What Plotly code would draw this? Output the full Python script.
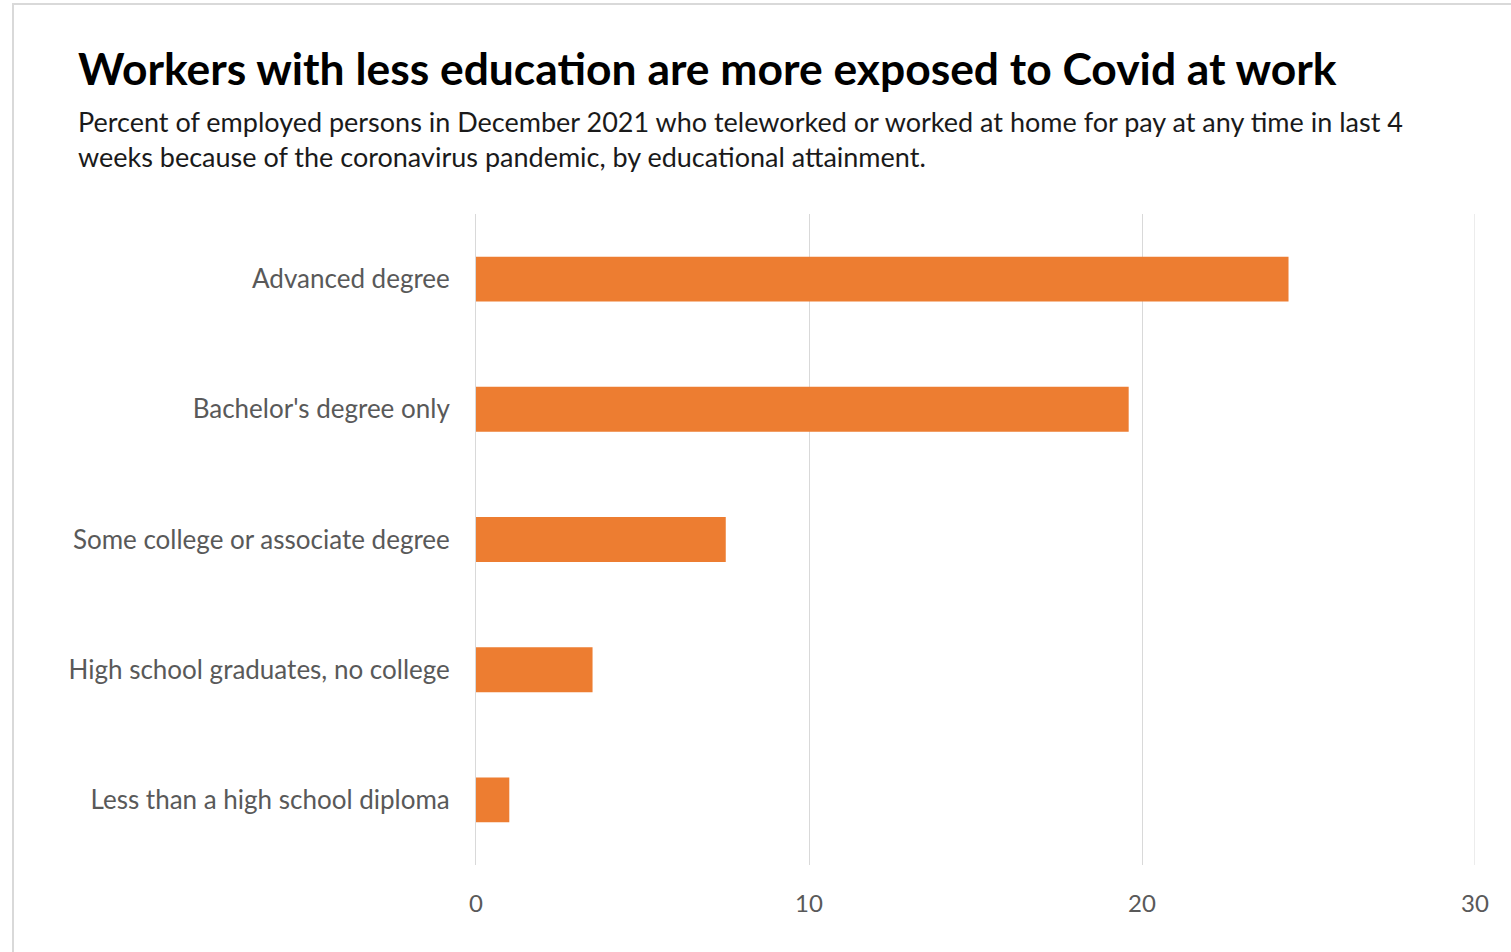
import plotly.graph_objects as go

categories = [
    "Less than a high school diploma",
    "High school graduates, no college",
    "Some college or associate degree",
    "Bachelor's degree only",
    "Advanced degree",
]
values = [1.0, 3.5, 7.5, 19.6, 24.4]
x_ticks = [0, 10, 20, 30]

W, H = 1511, 952
L, R, T, B = 476, 1511 - 1475, 214, 952 - 865
pw, ph = W - L - R, H - T - B

def px_x(x):
    return (x - L) / pw

def px_y(y):
    return (H - B - y) / ph

FONT = "Lato"

fig = go.Figure(go.Bar(
    x=values, y=categories, orientation="h",
    marker=dict(color="#ED7D31", line=dict(width=0)),
    width=0.345,
))

fig.update_layout(
    width=W, height=H,
    margin=dict(l=L, r=R, t=T, b=B, autoexpand=False),
    paper_bgcolor="white", plot_bgcolor="white",
    showlegend=False,
    font=dict(family=FONT, color="#595959"),
)
fig.update_xaxes(
    range=[0, 30], tickvals=x_ticks, showgrid=True, gridcolor="#d9d9d9", gridwidth=1,
    zeroline=False, showline=False, ticks="", tickfont=dict(size=24, color="#595959"),
    ticklabelstandoff=22, automargin=False, fixedrange=True,
)
fig.update_yaxes(
    showgrid=False, zeroline=False, showline=True, linecolor="#d9d9d9", linewidth=1,
    ticks="", tickfont=dict(size=26, color="#595959"), ticklabelstandoff=20,
    automargin=False, fixedrange=True, range=[-0.5, 4.5],
)
# gridline at the right end of the axis (hidden by plotly at the range edge)
fig.add_shape(
    type="line", xref="x", yref="paper", x0=x_ticks[-1], x1=x_ticks[-1], y0=0, y1=1,
    line=dict(color="#d9d9d9", width=1), layer="below",
)

fig.add_annotation(
    text="<b>Workers with less education are more exposed to Covid at work</b>",
    xref="paper", yref="paper", x=px_x(76), y=px_y(67), xanchor="left", yanchor="middle",
    showarrow=False, font=dict(size=44.4, color="#000000", family=FONT),
)
fig.add_annotation(
    text="Percent of employed persons in December 2021 who teleworked or worked at home for pay at any time in last 4<br>weeks because of the coronavirus pandemic, by educational attainment.",
    xref="paper", yref="paper", x=px_x(76), y=px_y(139), xanchor="left", yanchor="middle",
    align="left", showarrow=False, font=dict(size=27, color="#1a1a1a", family=FONT),
)
fig.add_shape(
    type="rect", xref="paper", yref="paper",
    x0=px_x(13), x1=px_x(1530), y0=px_y(4), y1=px_y(970),
    line=dict(color="#d9d9d9", width=2), fillcolor="rgba(0,0,0,0)", layer="below",
)

fig.write_html(
    "out.html",
    config={"displayModeBar": False},
    post_script="document.body.style.margin='0';document.body.style.overflow='hidden';",
)
